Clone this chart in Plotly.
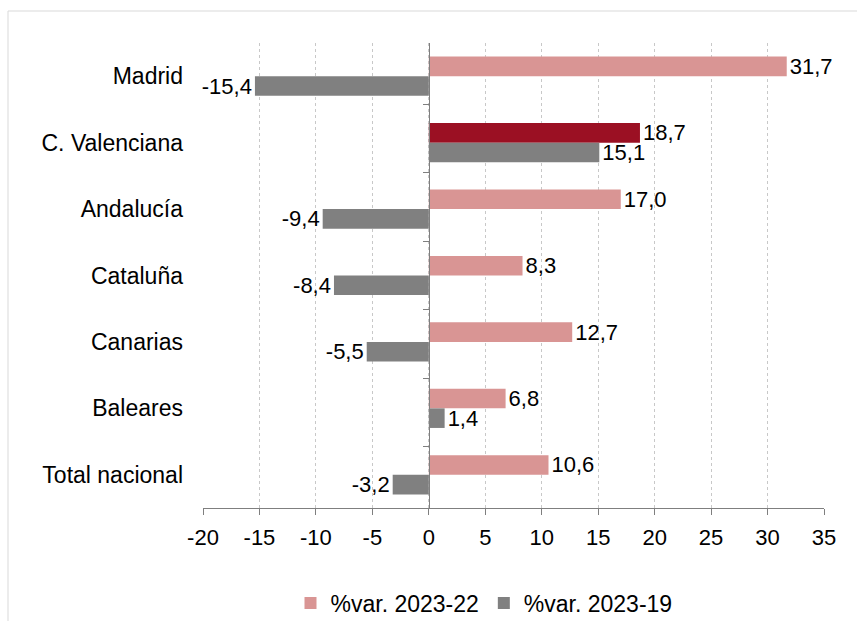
import plotly.graph_objects as go

categories = ["Madrid", "C. Valenciana", "Andalucía", "Cataluña", "Canarias", "Baleares", "Total nacional"]
var_2023_22 = [31.7, 18.7, 17.0, 8.3, 12.7, 6.8, 10.6]
var_2023_19 = [-15.4, 15.1, -9.4, -8.4, -5.5, 1.4, -3.2]
series_names = ["%var. 2023-22", "%var. 2023-19"]
x_ticks = [-20, -15, -10, -5, 0, 5, 10, 15, 20, 25, 30, 35]
highlight = "C. Valenciana"

PINK = "#D99594"
DARKRED = "#9B1023"
GRAY = "#808080"
FONT = "Liberation Sans, Arial, sans-serif"
NUM_SIZE = 22
TXT_SIZE = 23

pink_colors = [DARKRED if c == highlight else PINK for c in categories]

fig = go.Figure()
fig.add_trace(go.Bar(
    y=categories, x=var_2023_22, orientation="h", name=series_names[0],
    marker=dict(color=pink_colors, line=dict(width=0)),
    texttemplate="%{x:.1f}", textposition="outside", constraintext="none",
    cliponaxis=False, textfont=dict(size=NUM_SIZE, color="black", family=FONT),
))
fig.add_trace(go.Bar(
    y=categories, x=var_2023_19, orientation="h", name=series_names[1],
    marker=dict(color=GRAY, line=dict(width=0)),
    texttemplate="%{x:.1f}", textposition="outside", constraintext="none",
    cliponaxis=False, textfont=dict(size=NUM_SIZE, color="black", family=FONT),
))
# invisible helper to draw the vertical axis line at x = 0
fig.add_trace(go.Scatter(
    y=categories, x=[0] * len(categories), yaxis="y2", mode="markers",
    marker=dict(opacity=0), showlegend=False, hoverinfo="skip",
))

L, R, T, B = 203, 33, 43, 113
W, H = 857, 621
pw = W - L - R
ph = H - T - B
x0_frac = (0 - x_ticks[0]) / (x_ticks[-1] - x_ticks[0])

fig.update_layout(
    width=W, height=H,
    margin=dict(l=L, r=R, t=T, b=B, autoexpand=False),
    paper_bgcolor="white", plot_bgcolor="white",
    barmode="group", bargap=0.41, bargroupgap=0,
    separators=",.",
    font=dict(family=FONT, size=TXT_SIZE, color="black"),
    showlegend=True,
    legend=dict(
        orientation="h", x=(484 - L) / pw, xanchor="center",
        y=(H - B - 603) / ph, yanchor="middle",
        font=dict(size=TXT_SIZE, color="black", family=FONT),
        itemwidth=30, traceorder="normal",
    ),
    xaxis=dict(
        range=[x_ticks[0], x_ticks[-1]], tickmode="array", tickvals=x_ticks,
        ticktext=[str(v) for v in x_ticks],
        showgrid=True, gridcolor="#C8C8C8", griddash="dot", gridwidth=1,
        zeroline=False, showline=True, linecolor="#7F7F7F", linewidth=1,
        ticks="outside", ticklen=6, tickcolor="#7F7F7F",
        tickfont=dict(size=NUM_SIZE, color="black", family=FONT),
        ticklabelstandoff=4,
    ),
    yaxis=dict(
        categoryorder="array", categoryarray=categories, autorange="reversed",
        showgrid=False, zeroline=False, showline=False, ticks="",
        tickfont=dict(size=TXT_SIZE, color="black", family=FONT),
        ticklabelstandoff=19,
    ),
    yaxis2=dict(
        overlaying="y", anchor="free", position=x0_frac, side="left",
        categoryorder="array", categoryarray=categories, autorange="reversed",
        showgrid=False, zeroline=False, showline=True, linecolor="#7F7F7F", linewidth=1,
        ticks="outside", tickson="boundaries", ticklen=6, tickcolor="#7F7F7F",
        showticklabels=False,
    ),
    shapes=[
        dict(type="line", xref="paper", yref="paper",
             x0=(8 - L) / pw, x1=(W + 5 - L) / pw,
             y0=1 + (T - 11) / ph, y1=1 + (T - 11) / ph,
             line=dict(color="#D9D9D9", width=1)),
        dict(type="line", xref="paper", yref="paper",
             x0=(8 - L) / pw, x1=(8 - L) / pw,
             y0=1 + (T - 11) / ph, y1=(H - B - H - 5) / ph,
             line=dict(color="#D9D9D9", width=1)),
    ],
)

fig.write_html("out.html", config={"displayModeBar": False},
               post_script="document.body.style.margin='0';")
